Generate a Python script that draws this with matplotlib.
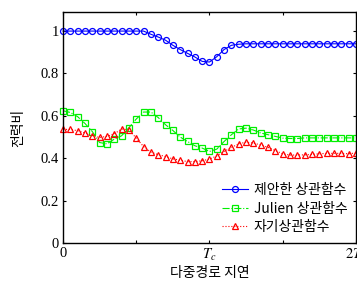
import matplotlib
matplotlib.use('Agg')
import matplotlib.pyplot as plt
import numpy as np

plt.rcParams['font.family'] = ['Noto Sans CJK KR', 'DejaVu Sans']
plt.rcParams['mathtext.fontset'] = 'stix'

# 다중경로 지연 (Tc 단위)
delay = np.linspace(0, 2, 41)

proposed = [1.0, 1.0, 1.0, 1.0, 1.0, 1.0, 1.0, 1.0, 1.0, 1.0, 1.0, 1.0,
            0.985, 0.972, 0.957, 0.933, 0.913, 0.895, 0.878, 0.857, 0.854,
            0.879, 0.913, 0.933, 0.938,
            0.94, 0.94, 0.94, 0.94, 0.94, 0.94, 0.94, 0.94,
            0.94, 0.94, 0.94, 0.94, 0.94, 0.94, 0.94, 0.94]

julien = [0.624, 0.616, 0.596, 0.564, 0.526, 0.474, 0.468, 0.490, 0.506,
          0.544, 0.585, 0.618, 0.618, 0.592, 0.558, 0.531, 0.500, 0.479,
          0.459, 0.448, 0.432, 0.443, 0.479, 0.511, 0.538, 0.542, 0.533,
          0.519, 0.511, 0.503, 0.495, 0.493, 0.493,
          0.496, 0.496, 0.496, 0.496, 0.496, 0.496, 0.496, 0.496]

autocorr = [0.536, 0.536, 0.530, 0.519, 0.507, 0.498, 0.503, 0.515, 0.538,
            0.534, 0.495, 0.455, 0.429, 0.417, 0.408, 0.397, 0.391, 0.384,
            0.384, 0.388, 0.396, 0.411, 0.432, 0.451, 0.468, 0.476, 0.471,
            0.463, 0.451, 0.436, 0.421, 0.415, 0.415, 0.416, 0.418, 0.421,
            0.423, 0.423, 0.423, 0.421, 0.425]

labels = ['제안한 상관함수', 'Julien 상관함수', '자기상관함수']

fig = plt.figure(figsize=(3.57, 2.82), dpi=100)
ax = fig.add_axes([0.1765, 0.1383, 0.8205, 0.8191])

ax.plot(delay, proposed, '-', color='#0000ff', linewidth=0.8, marker='o',
        markersize=4.3, markerfacecolor='none', markeredgewidth=0.9,
        label=labels[0], clip_on=False)
ax.plot(delay, julien, '-.', color='#00ee00', linewidth=0.8, marker='s',
        markersize=4.5, markerfacecolor='none', markeredgewidth=0.9,
        label=labels[1], clip_on=False)
ax.plot(delay, autocorr, ':', color='#ff0000', linewidth=0.8, marker='^',
        markersize=4.8, markerfacecolor='none', markeredgewidth=0.9,
        label=labels[2], clip_on=False)

ax.set_xlim(0, 2)
ax.set_ylim(0, 1.09)
ax.set_xticks([0, 0.5, 1, 1.5, 2])
ax.set_xticklabels(['0', '', r'$T_c$', '', r'$2T_c$'])
ax.set_yticks([0, 0.2, 0.4, 0.6, 0.8, 1.0])
ax.set_yticklabels(['0', '0.2', '0.4', '0.6', '0.8', '1'])
for t in ax.get_xticklabels() + ax.get_yticklabels():
    t.set_family('Liberation Serif')
    t.set_fontsize(10.5)
ax.tick_params(direction='in', top=True, right=True, length=2.5, width=0.8,
               pad=3)
for s in ax.spines.values():
    s.set_linewidth(1.0)

ax.set_xlabel('다중경로 지연', fontsize=10, labelpad=2)
ax.set_ylabel('전력비', fontsize=10, labelpad=11)

leg = ax.legend(loc='center left', bbox_to_anchor=(221.7 / 357, 1 - 208.5 / 282),
                bbox_transform=fig.transFigure, frameon=False, fontsize=10,
                handlelength=1.9, handletextpad=0.4, borderpad=0,
                labelspacing=0.3, borderaxespad=0)

fig.savefig('out.png', dpi=100)
